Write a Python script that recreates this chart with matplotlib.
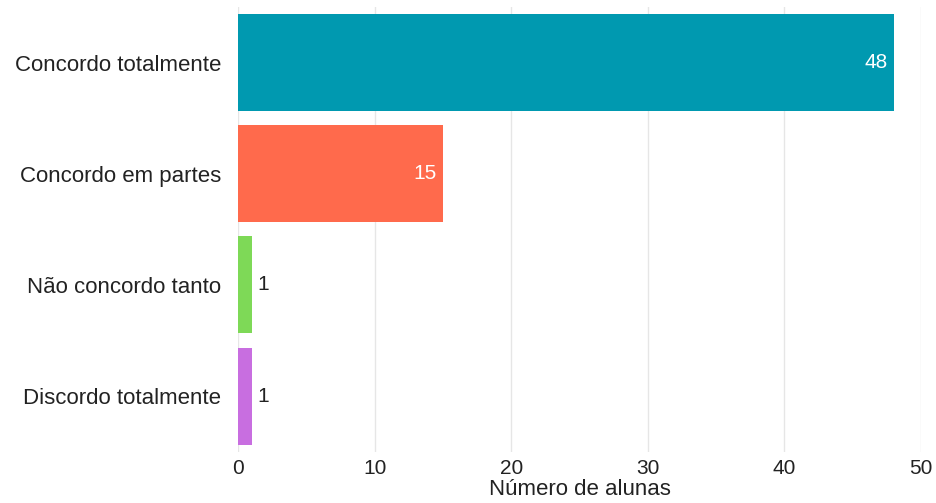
import matplotlib
matplotlib.use("Agg")
import matplotlib.pyplot as plt

# dados da pergunta
categorias = ["Concordo totalmente", "Concordo em partes", "Não concordo tanto", "Discordo totalmente"]
valores = [48, 15, 1, 1]
cores = ["#0099b0", "#ff6a4c", "#7ed957", "#c86ee0"]
ticks_x = [0, 10, 20, 30, 40, 50]

plt.rcParams["font.family"] = ["Liberation Sans", "DejaVu Sans"]

fig = plt.figure(figsize=(9.37, 5.03), dpi=100)
ax = fig.add_axes([0.254, 0.102, 0.729, 0.884])

y = list(range(len(categorias)))
barras = ax.barh(y, valores, height=0.872, color=cores, zorder=3)
ax.set_ylim(len(categorias) - 0.5, -0.5)
ax.set_xlim(0, 50)
ax.set_xticks(ticks_x)
ax.set_yticks(y)
ax.set_yticklabels(categorias, fontsize=16, color="#222222")
ax.tick_params(axis="x", labelsize=15, colors="#222222", length=0, pad=5)
ax.tick_params(axis="y", length=0, pad=12)
ax.grid(axis="x", color="#e6e6e6", linewidth=1, zorder=0)
for s in ax.spines.values():
    s.set_visible(False)
ax.set_xlabel("Número de alunas", fontsize=16, color="#222222", labelpad=1)

# rótulos de valor
for b, v in zip(barras, valores):
    if v >= 5:
        ax.text(b.get_width() - 0.45, b.get_y() + b.get_height() / 2, str(v),
                ha="right", va="center", color="white", fontsize=15, zorder=4)
    else:
        ax.text(b.get_width() + 0.45, b.get_y() + b.get_height() / 2, str(v),
                ha="left", va="center", color="#222222", fontsize=15, zorder=4)

fig.savefig("out.png", dpi=100)
